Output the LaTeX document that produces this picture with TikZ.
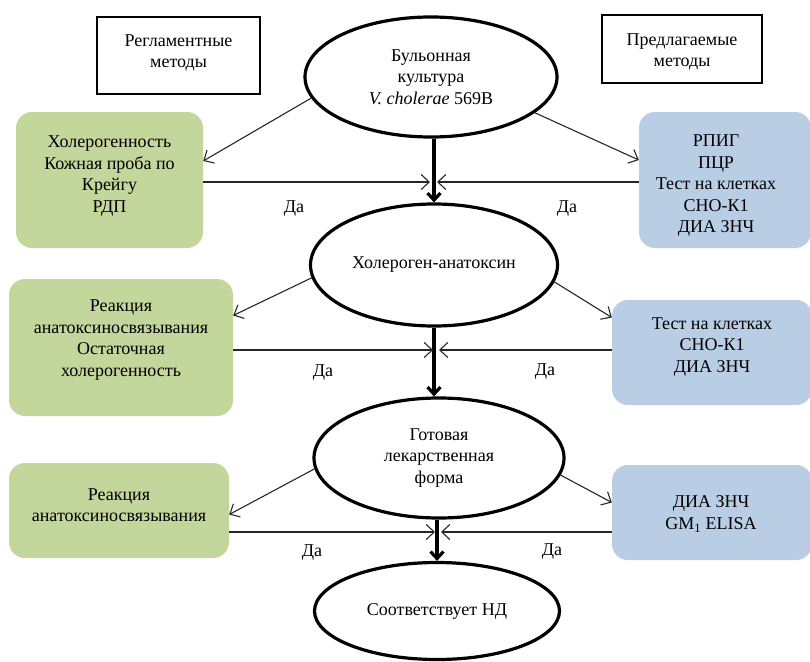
\documentclass[tikz,border=0pt]{standalone}
\usepackage{fontspec}
\setmainfont{Liberation Serif}
\usetikzlibrary{arrows.meta,shapes.geometric}
\definecolor{gbox}{HTML}{C3D69B}
\definecolor{bbox}{HTML}{B9CDE5}
\tikzset{
  txt/.style={font=\fontsize{18}{21.5}\selectfont, align=center, inner sep=0pt},
  hdr/.style={draw, line width=2.8pt, inner sep=0pt},
  oval/.style={ellipse, draw, line width=3.2pt, inner sep=0pt, font=\fontsize{18}{21.5}\selectfont, align=center},
  gbx/.style={fill=gbox, rounded corners=16pt, inner sep=0pt},
  bbx/.style={fill=bbox, rounded corners=16pt, inner sep=0pt},
  thin/.style={draw=black!85, line width=1.1pt, -{Straight Barb[length=8pt,width=15pt]}},
  thick/.style={draw, line width=3.2pt, -{Straight Barb[length=7pt,width=13pt]}},
  da/.style={font=\fontsize{18}{20}\selectfont, inner sep=0pt}
}
\begin{document}
\begin{tikzpicture}[x=1pt,y=-1pt]
\useasboundingbox (0,0) rectangle (810,661);
% header boxes
\node[hdr, minimum width=163pt, minimum height=77pt] (hl) at (178.5,55.5) {};
\node[txt] (hlt) at (178.5,53) {Регламентные\\методы};
\node[hdr, minimum width=160pt, minimum height=68pt] (hr) at (682,49) {};
\node[txt] (hrt) at (682,52) {Предлагаемые\\методы};
% ellipses
\node[oval, minimum width=252pt, minimum height=120pt] (e1) at (431,77) {Бульонная\\культура\\\textit{V. cholerae} 569В};
\node[oval, minimum width=247pt, minimum height=122pt] (e2) at (434,265) {Холероген-анатоксин};
\node[oval, minimum width=250pt, minimum height=120pt] (e3) at (439,458) {Готовая\\лекарственная\\форма};
\node[oval, minimum width=245pt, minimum height=97pt] (e4) at (437,611) {Соответствует НД};
% green boxes
\node[gbx, minimum width=187pt, minimum height=136pt] (g1) at (109.5,180) {};
\node[txt] (g1t) at (109.5,176) {Холерогенность\\Кожная проба по\\Крейгу\\РДП};
\node[gbx, minimum width=224pt, minimum height=137pt] (g2) at (121,347.5) {};
\node[txt] (g2t) at (121,340) {Реакция\\анатоксиносвязывания\\Остаточная\\холерогенность};
\node[gbx, minimum width=220pt, minimum height=95pt] (g3) at (119,510.5) {};
\node[txt] (g3t) at (119,505) {Реакция\\анатоксиносвязывания};
% blue boxes
\node[bbx, minimum width=172pt, minimum height=136pt] (b1) at (725,180) {};
\node[txt] (b1t) at (716,186) {РПИГ\\ПЦР\\Тест на клетках\\СНО-К1\\ДИА ЗНЧ};
\node[bbx, minimum width=200pt, minimum height=105pt] (b2) at (712,352.5) {};
\node[txt] (b2t) at (712,347) {Тест на клетках\\СНО-К1\\ДИА ЗНЧ};
\node[bbx, minimum width=200pt, minimum height=95pt] (b3) at (712,512.5) {};
\node[txt] (b3t) at (711,514) {ДИА ЗНЧ\\GM\textsubscript{1} ELISA};
% main flow
\draw[thick] (e2.north |- e1.south) -- (e2.north);
\draw[thick] (e2.south) -- (e2.south |- e3.north);
\draw[thick] (e4.north |- e3.south) -- (e4.north);
% side arrows from ellipses
\draw[thin] (e1.190) -- ([yshift=19pt]g1.east);
\draw[thin] (e1.341) -- ([yshift=20pt]b1.west);
\draw[thin] (e2.186) -- ([yshift=32pt]g2.east);
\draw[thin] (e2.352) -- ([yshift=35pt]b2.west);
\draw[thin] (e3.185) -- ([yshift=-4pt]g3.east);
\draw[thin] (e3.352) -- ([yshift=10pt]b3.west);
% return arrows
\coordinate (m1l) at (430,182);
\coordinate (m1r) at (437,182);
\coordinate (m2l) at (433,350);
\coordinate (m2r) at (439,350);
\coordinate (m3l) at (435,532);
\coordinate (m3r) at (441,532);
\draw[thin] (g1.east |- m1l) -- (m1l);
\draw[thin] (b1.west |- m1r) -- (m1r);
\draw[thin] (g2.east |- m2l) -- (m2l);
\draw[thin] (b2.west |- m2r) -- (m2r);
\draw[thin] (g3.east |- m3l) -- (m3l);
\draw[thin] (b3.west |- m3r) -- (m3r);
% labels
\node[da] (d1l) at (294,209) {Да};
\node[da] (d1r) at (567,209) {Да};
\node[da] (d2l) at (323,373) {Да};
\node[da] (d2r) at (545,372) {Да};
\node[da] (d3l) at (312,553) {Да};
\node[da] (d3r) at (552,552) {Да};
\end{tikzpicture}
\end{document}
